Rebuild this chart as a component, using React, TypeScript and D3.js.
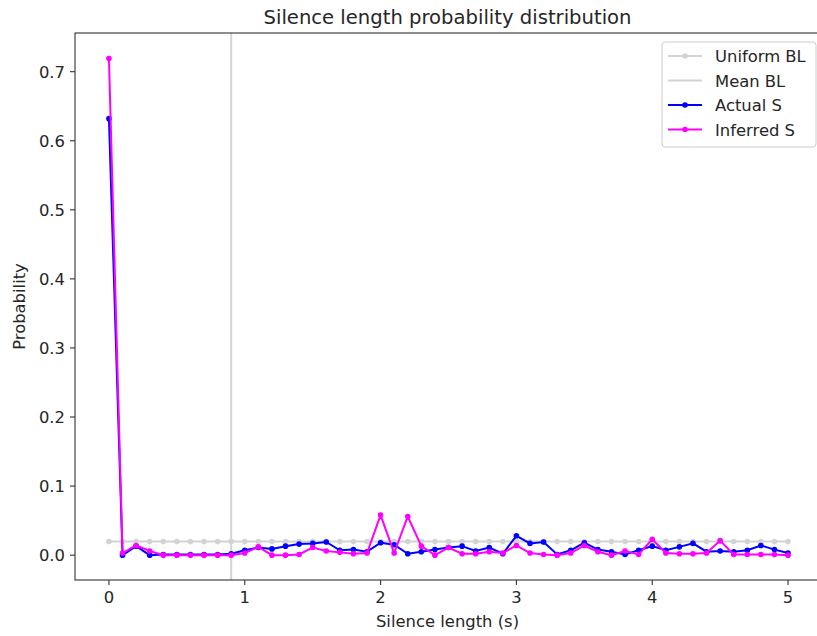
import React from "react";
import * as d3 from "d3";

const xValues: number[] = Array.from({ length: 51 }, (_, i) => +(i / 10).toFixed(1));
const uniformBL: number[] = xValues.map(() => 1 / 51);
const meanBL = 0.9;
const actualS: number[] = [
  0.632, 0.0, 0.013, 0.0, 0.001, 0.001, 0.001, 0.001, 0.001, 0.002,
  0.007, 0.011, 0.009, 0.013, 0.016, 0.017, 0.019, 0.007, 0.008, 0.005,
  0.018, 0.015, 0.002, 0.005, 0.008, 0.011, 0.013, 0.006, 0.011, 0.002,
  0.028, 0.017, 0.019, 0.001, 0.007, 0.018, 0.008, 0.005, 0.001, 0.007,
  0.013, 0.007, 0.012, 0.017, 0.005, 0.006, 0.005, 0.007, 0.014, 0.008,
  0.003,
];
const inferredS: number[] = [
  0.719, 0.003, 0.014, 0.006, 0.0, 0.0, 0.0, 0.0, 0.0, 0.0,
  0.003, 0.012, 0.0, 0.0, 0.001, 0.011, 0.006, 0.004, 0.002, 0.003,
  0.058, 0.003, 0.056, 0.013, 0.0, 0.011, 0.002, 0.002, 0.005, 0.003,
  0.014, 0.003, 0.001, 0.0, 0.003, 0.014, 0.005, 0.0, 0.006, 0.001,
  0.023, 0.003, 0.002, 0.002, 0.003, 0.021, 0.001, 0.001, 0.001, 0.001,
  0.0,
];
const xTicks: number[] = [0, 1, 2, 3, 4, 5];
const yTicks: number[] = [0, 0.1, 0.2, 0.3, 0.4, 0.5, 0.6, 0.7];
const legendLabels: string[] = ["Uniform BL", "Mean BL", "Actual S", "Inferred S"];

const W = 817;
const H = 636;
const left = 75;
const right = 822;
const top = 33;
const bottom = 580;
const font = "DejaVu Sans, sans-serif";
const gray = "#d3d3d3";
const fs = 16.4;

export default function App() {
  const x = d3.scaleLinear().domain([-0.25, 5.25]).range([left, right]);
  const y = d3.scaleLinear().domain([-0.036, 0.756]).range([bottom, top]);
  const line = d3
    .line<number>()
    .x((_, i) => x(xValues[i]))
    .y((d) => y(d));

  const series = [
    { data: actualS, color: "#0000ff" },
    { data: inferredS, color: "#ff00ff" },
  ];

  const legendX = 662;
  const legendY = 42;
  const legendW = 154;
  const legendH = 105;

  return (
    <svg
      width={W}
      height={H}
      style={{ position: "absolute", left: 0, top: 0, background: "#fff" }}
      fontFamily={font}
    >
      <rect x={0} y={0} width={W} height={H} fill="#fff" />
      <defs>
        <clipPath id="plotclip">
          <rect x={left} y={top} width={right - left} height={bottom - top} />
        </clipPath>
      </defs>
      <text x={(left + right) / 2 - 1} y={24} textAnchor="middle" fontSize={19.6} fill="#262626">
        Silence length probability distribution
      </text>

      <g clipPath="url(#plotclip)">
        <path d={line(uniformBL) || ""} fill="none" stroke={gray} strokeWidth={2} />
        {uniformBL.map((d, i) => (
          <circle key={"u" + i} cx={x(xValues[i])} cy={y(d)} r={2.8} fill={gray} />
        ))}
        <line x1={x(meanBL)} x2={x(meanBL)} y1={top} y2={bottom} stroke={gray} strokeWidth={2} />
        {series.map((s, si) => (
          <g key={"s" + si}>
            <path d={line(s.data) || ""} fill="none" stroke={s.color} strokeWidth={2} />
            {s.data.map((d, i) => (
              <circle key={i} cx={x(xValues[i])} cy={y(d)} r={2.8} fill={s.color} />
            ))}
          </g>
        ))}
      </g>

      <rect x={left} y={top} width={right - left} height={bottom - top} fill="none" stroke="#333" strokeWidth={1.1} />

      {xTicks.map((t) => (
        <g key={"xt" + t}>
          <line x1={x(t)} x2={x(t)} y1={bottom} y2={bottom + 5} stroke="#333" strokeWidth={1.1} />
          <text x={x(t)} y={bottom + 23} textAnchor="middle" fontSize={fs} fill="#262626">
            {t}
          </text>
        </g>
      ))}
      {yTicks.map((t) => (
        <g key={"yt" + t}>
          <line x1={left - 5} x2={left} y1={y(t)} y2={y(t)} stroke="#333" strokeWidth={1.1} />
          <text x={left - 10} y={y(t) + 6} textAnchor="end" fontSize={fs} fill="#262626">
            {t.toFixed(1)}
          </text>
        </g>
      ))}
      <text x={(left + right) / 2 - 1} y={627} textAnchor="middle" fontSize={fs} fill="#262626">
        Silence length (s)
      </text>
      <text
        transform={`translate(25, ${(top + bottom) / 2}) rotate(-90)`}
        textAnchor="middle"
        fontSize={fs}
        fill="#262626"
      >
        Probability
      </text>

      <rect
        x={legendX}
        y={legendY}
        width={legendW}
        height={legendH}
        rx={3}
        fill="#fff"
        fillOpacity={0.8}
        stroke="#cccccc"
        strokeWidth={1}
      />
      {legendLabels.map((lab, i) => {
        const ly = legendY + 14 + i * 24.5;
        const colors = [gray, gray, "#0000ff", "#ff00ff"];
        const hasMarker = i !== 1;
        return (
          <g key={"lg" + i}>
            <line x1={legendX + 6} x2={legendX + 40} y1={ly} y2={ly} stroke={colors[i]} strokeWidth={2} />
            {hasMarker && <circle cx={legendX + 23} cy={ly} r={2.8} fill={colors[i]} />}
            <text x={legendX + 53} y={ly + 6} fontSize={fs} fill="#262626">
              {lab}
            </text>
          </g>
        );
      })}
    </svg>
  );
}
